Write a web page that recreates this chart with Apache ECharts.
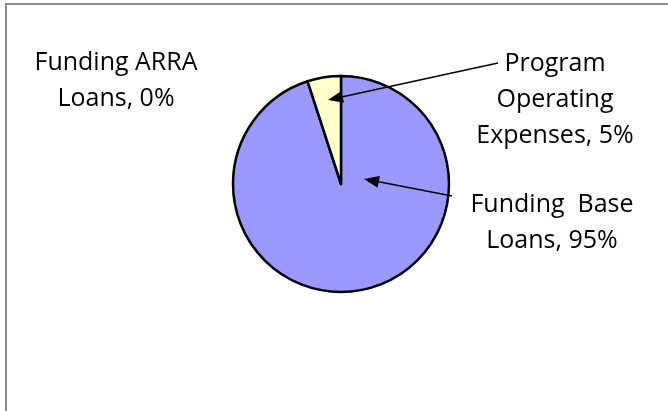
<!DOCTYPE html>
<html>
<head>
<meta charset="utf-8">
<script src="https://cdn.jsdelivr.net/npm/echarts@6/dist/echarts.min.js"></script>
<style>html,body{margin:0;padding:0;background:#fff;}#c{width:668px;height:411px;}</style>
</head>
<body>
<div id="c"></div>
<script>
var categories = ['Funding ARRA Loans', 'Funding Base Loans', 'Program Operating Expenses'];
var labelTexts = ['Funding ARRA\nLoans, 0%', 'Funding  Base\nLoans, 95%', 'Program\nOperating\nExpenses, 5%'];
var values = [0, 95, 5];
var colors = ['#CCFFCC', '#9999FF', '#FFFFCC'];

var labelPos = [[116, 81], [552, 223], [555, 100]];
var cx = 341, cy = 184, R = 108;

var chart = echarts.init(document.getElementById('c'), null, {renderer: 'canvas'});

function arrow(x1, y1, x2, y2) {
  var ang = Math.atan2(y2 - y1, x2 - x1);
  var L = 15, W = 6;
  var bx = x2 - L * Math.cos(ang), by = y2 - L * Math.sin(ang);
  var px = -Math.sin(ang) * W, py = Math.cos(ang) * W;
  return [
    {type: 'line', shape: {x1: x1, y1: y1, x2: bx, y2: by}, style: {stroke: '#000', lineWidth: 1.5}, z: 100},
    {type: 'polygon', shape: {points: [[x2, y2], [bx + px, by + py], [bx - px, by - py]]}, style: {fill: '#000'}, z: 100}
  ];
}

var g = [{type: 'rect', shape: {x: 6, y: 4, width: 700, height: 500}, style: {fill: 'none', stroke: '#8c8c8c', lineWidth: 2}, z: 0}];
g = g.concat(arrow(498, 63, 328, 100));
g = g.concat(arrow(452, 196, 364, 179));

chart.setOption({
  animation: false,
  backgroundColor: '#fff',
  graphic: g,
  series: [{
    type: 'pie',
    center: [cx, cy],
    radius: [0, R],
    startAngle: 90,
    clockwise: true,
    avoidLabelOverlap: false,
    data: categories.map(function (n, i) {
      return {name: n, value: values[i], itemStyle: {color: colors[i]}};
    }),
    itemStyle: {borderColor: '#000', borderWidth: 2.5},
    label: {
      show: true,
      formatter: function (p) { return labelTexts[p.dataIndex]; },
      fontFamily: '"Open Sans", sans-serif',
      fontSize: 25,
      lineHeight: 36,
      color: '#000',
      align: 'center'
    },
    labelLine: {show: false},
    labelLayout: function (p) {
      return {x: labelPos[p.dataIndex][0], y: labelPos[p.dataIndex][1], align: 'center', verticalAlign: 'middle'};
    },
    emphasis: {disabled: true}
  }]
});
</script>
</body>
</html>
